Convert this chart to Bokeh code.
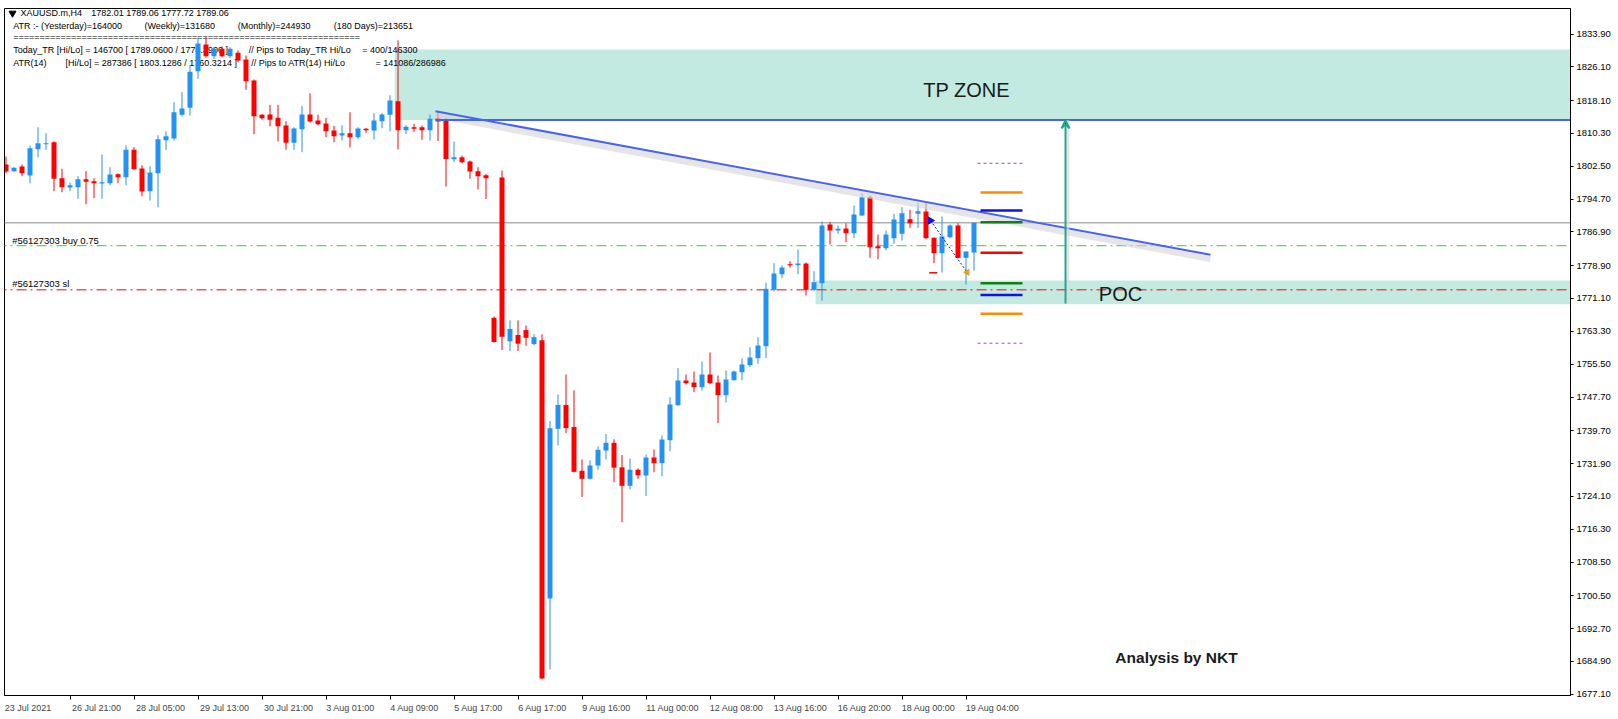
import math
from bokeh.plotting import figure
from bokeh.models import Range1d, FixedTicker, Label, Arrow, VeeHead, PrintfTickFormatter
from bokeh.core.properties import value
from bokeh.embed import file_html
from bokeh.resources import INLINE

# ---------------- data ----------------
opens = [1802.91, 1801.32, 1802.44, 1800.30, 1806.54, 1807.73, 1808.21, 1799.66, 1797.45, 1797.52,
         1799.42, 1798.94, 1798.47, 1798.47, 1800.61, 1799.89, 1806.40, 1801.96, 1796.57, 1800.84,
         1808.68, 1809.08, 1814.71, 1816.37, 1825.07, 1831.41, 1828.63, 1830.39, 1828.63, 1829.44,
         1827.84, 1822.86, 1814.71, 1814.78, 1814.00, 1812.17, 1808.06, 1811.29, 1814.78, 1813.36,
         1812.65, 1810.98, 1809.80, 1810.34, 1809.39, 1811.39, 1810.98, 1813.19, 1814.71, 1817.94,
         1811.06, 1811.77, 1811.77, 1811.06, 1813.83, 1813.72, 1804.17, 1804.64, 1803.62, 1801.32,
         1800.37, 1766.51, 1799.82, 1760.93, 1762.42, 1763.59, 1760.26, 1761.19, 1699.85, 1740.15,
         1745.80, 1740.58, 1730.17, 1728.27, 1731.43, 1734.99, 1736.82, 1731.00, 1726.61, 1730.43,
         1729.06, 1733.33, 1731.98, 1737.44, 1745.75, 1751.62, 1751.14, 1750.03, 1753.04, 1751.14,
         1748.13, 1751.69, 1753.59, 1755.25, 1756.91, 1759.76, 1773.15, 1776.86, 1779.23, 1779.00,
         1779.40, 1773.15, 1774.72, 1788.66, 1787.24, 1787.71, 1786.60, 1790.80, 1795.14, 1783.51,
         1783.03, 1785.41, 1786.45, 1789.92, 1791.20, 1791.75, 1785.50, 1781.85, 1785.65, 1788.42,
         1780.75, 1782.01]
highs = [1804.81, 1802.27, 1802.91, 1807.42, 1811.77, 1810.34, 1808.44, 1801.89, 1798.64, 1800.13,
         1801.32, 1799.66, 1805.29, 1802.27, 1800.84, 1807.49, 1807.02, 1802.74, 1802.51, 1809.87,
         1810.82, 1817.70, 1820.08, 1826.49, 1833.14, 1833.19, 1830.77, 1830.93, 1830.77, 1829.98,
         1828.79, 1823.10, 1814.95, 1817.09, 1817.09, 1813.19, 1811.77, 1816.85, 1819.84, 1814.71,
         1814.00, 1812.10, 1812.24, 1815.33, 1811.77, 1811.63, 1815.09, 1815.19, 1819.37, 1832.36,
         1812.24, 1812.58, 1812.17, 1814.78, 1815.19, 1813.95, 1808.37, 1805.05, 1803.86, 1802.27,
         1800.70, 1766.82, 1801.49, 1765.91, 1765.91, 1764.68, 1762.59, 1762.59, 1741.98, 1748.29,
         1753.04, 1749.29, 1732.85, 1732.67, 1735.99, 1738.91, 1737.65, 1733.93, 1733.09, 1730.77,
         1734.04, 1735.23, 1738.56, 1747.65, 1754.54, 1753.04, 1753.76, 1756.13, 1758.27, 1752.80,
         1753.99, 1753.99, 1756.91, 1759.53, 1761.90, 1774.82, 1779.47, 1778.93, 1779.95, 1782.73,
         1779.64, 1777.57, 1789.37, 1789.21, 1788.42, 1788.97, 1793.17, 1796.09, 1795.55, 1786.29,
         1787.24, 1791.20, 1792.77, 1792.15, 1793.82, 1793.72, 1785.57, 1790.56, 1788.66, 1788.97,
         1782.25, 1789.06]
lows = [1800.84, 1801.18, 1800.13, 1798.47, 1804.64, 1806.40, 1796.57, 1796.33, 1796.57, 1794.77,
        1793.48, 1794.91, 1794.77, 1797.99, 1798.47, 1797.99, 1801.70, 1795.38, 1794.36, 1792.77,
        1806.40, 1808.61, 1814.31, 1814.55, 1823.26, 1828.32, 1828.01, 1828.39, 1828.15, 1827.20,
        1820.65, 1810.11, 1813.53, 1812.01, 1808.37, 1806.40, 1806.40, 1805.83, 1812.81, 1812.17,
        1809.39, 1808.21, 1808.61, 1806.95, 1808.92, 1810.44, 1808.85, 1811.53, 1810.75, 1806.47,
        1810.15, 1810.58, 1808.78, 1808.61, 1808.49, 1797.69, 1803.46, 1803.22, 1799.51, 1796.97,
        1794.72, 1760.64, 1758.86, 1758.60, 1758.60, 1759.86, 1760.02, 1680.73, 1682.99, 1736.18,
        1739.08, 1729.77, 1723.95, 1728.10, 1730.43, 1732.85, 1727.44, 1717.97, 1725.78, 1728.27,
        1724.19, 1729.84, 1728.89, 1734.83, 1745.60, 1750.67, 1748.84, 1749.24, 1750.80, 1741.48,
        1746.39, 1751.60, 1751.69, 1754.78, 1755.58, 1756.91, 1772.75, 1775.91, 1778.38, 1776.86,
        1771.80, 1772.82, 1770.61, 1783.91, 1786.45, 1784.46, 1785.41, 1790.70, 1780.75, 1780.42,
        1782.49, 1784.08, 1784.86, 1787.88, 1787.88, 1785.30, 1779.47, 1777.26, 1785.41, 1780.60,
        1774.41, 1777.72]
closes = [1801.25, 1802.13, 1800.84, 1806.78, 1807.97, 1807.97, 1799.51, 1797.52, 1797.99, 1799.42,
          1798.80, 1798.47, 1798.64, 1800.54, 1799.89, 1806.40, 1801.79, 1796.50, 1801.01, 1808.92,
          1809.63, 1815.33, 1816.21, 1824.92, 1831.64, 1828.63, 1830.39, 1828.63, 1830.39, 1827.61,
          1822.69, 1814.38, 1813.91, 1813.53, 1812.01, 1808.06, 1811.46, 1814.78, 1813.12, 1812.48,
          1810.82, 1809.63, 1810.34, 1809.39, 1811.46, 1811.06, 1813.36, 1814.78, 1818.11, 1811.06,
          1811.86, 1811.39, 1811.06, 1813.76, 1813.12, 1804.22, 1804.64, 1803.46, 1801.25, 1800.13,
          1799.66, 1760.76, 1762.02, 1763.85, 1760.36, 1761.76, 1761.92, 1680.85, 1740.31, 1745.80,
          1740.31, 1729.93, 1728.27, 1731.43, 1735.16, 1736.82, 1730.93, 1726.61, 1730.43, 1729.10,
          1733.33, 1731.98, 1737.61, 1745.92, 1751.62, 1750.98, 1750.03, 1753.04, 1750.98, 1748.13,
          1751.86, 1753.76, 1755.42, 1757.08, 1759.93, 1773.39, 1777.03, 1778.45, 1779.00, 1779.40,
          1773.15, 1774.96, 1788.42, 1787.24, 1787.64, 1786.60, 1791.04, 1795.14, 1783.27, 1783.03,
          1786.29, 1789.85, 1791.35, 1788.97, 1791.82, 1785.41, 1781.85, 1785.81, 1788.42, 1780.75,
          1782.25, 1789.06]

xtick_bars = [8, 16, 24, 32, 40, 48, 56, 64, 72, 80, 88, 96, 104, 112, 120]
xtick_labels = ["26 Jul 21:00", "28 Jul 05:00", "29 Jul 13:00", "30 Jul 21:00", "3 Aug 01:00",
                "4 Aug 09:00", "5 Aug 17:00", "6 Aug 17:00", "9 Aug 16:00", "11 Aug 00:00",
                "12 Aug 08:00", "13 Aug 16:00", "16 Aug 20:00", "18 Aug 00:00", "19 Aug 04:00"]
first_date_label = "23 Jul 2021"

price_ticks = [1833.90, 1826.10, 1818.10, 1810.30, 1802.50, 1794.70, 1786.90, 1778.90, 1771.10,
               1763.30, 1755.50, 1747.70, 1739.70, 1731.90, 1724.10, 1716.30, 1708.50, 1700.50,
               1692.70, 1684.90, 1677.10]

bid_price = 1789.06
buy_price = 1783.63
sl_price = 1773.15
tp_zone = [1813.5, 1830.2]          # bottom, top
tp_zone_start_bar = 48.6
tp_line_price = 1813.5
tp_line_start_bar = 53.7
poc_zone = [1769.73, 1775.36]
poc_zone_start_bar = 101.2
trend_bars = [53.69, 150.56]
trend_prices = [1815.57, 1781.49]
arrow_bar = 132.44
arrow_prices = [1769.9, 1813.4]
level_prices = [1803.2, 1796.25, 1792.0, 1789.2, 1781.94, 1774.7, 1771.9, 1767.5, 1760.47]
trade_open = (115.56, 1789.6)
trade_close = (120.15, 1777.3)
sl_mark = (115.9, 1777.2)

# ---------------- layout helpers ----------------
PX_BAR = 8.0
X0_SCREEN = 5.5
Y_TOP = 1839.96
PX_PRICE = 4.211
LEFT = 4
TOP = 8
FRAME_W = 1566
FRAME_H = 687

def bx(sx):
    return (sx - X0_SCREEN) / PX_BAR

def py(sy):
    return Y_TOP - (sy - TOP) / PX_PRICE

x_lo, x_hi = bx(LEFT), bx(LEFT + FRAME_W)
y_lo = Y_TOP - FRAME_H / PX_PRICE

p = figure(frame_width=FRAME_W, frame_height=FRAME_H,
           x_range=Range1d(x_lo, x_hi), y_range=Range1d(y_lo, Y_TOP),
           output_backend="svg", toolbar_location=None, y_axis_location="right",
           min_border_left=LEFT, min_border_top=TOP, min_border_right=0, min_border_bottom=0)
p.grid.visible = False
p.background_fill_color = "white"
p.border_fill_color = "white"
p.outline_line_color = "black"
p.outline_line_width = 1

FONT = "Liberation Sans"
BLUE = "#2492f0"
RED = "#ff0000"
TEAL = "#c3eae1"

# zones
p.quad(left=[tp_zone_start_bar], right=[x_hi + 5], bottom=[tp_zone[0]], top=[tp_zone[1]],
       fill_color=TEAL, line_color=None)
p.quad(left=[poc_zone_start_bar], right=[x_hi + 5], bottom=[poc_zone[0]], top=[poc_zone[1]],
       fill_color=TEAL, line_color=None)

# horizontal order lines
p.line([x_lo - 1, x_hi + 1], [bid_price, bid_price], line_color="#8a8a8a", line_width=1)
p.line([x_lo - 1, x_hi + 1], [buy_price, buy_price], line_color="#33cc33", line_width=1, line_dash="10 4 2 4")
p.line([x_lo - 1, x_hi + 1], [sl_price, sl_price], line_color=RED, line_width=1, line_dash="10 4 2 4")

# info texts (top left)
def txt(s, sx, sy, size="9px", color="black", style="normal", align="left"):
    p.text(x=[bx(sx)], y=[py(sy)], text=[s], text_font=value(FONT), text_font_size=size,
           text_color=color, text_baseline="middle", text_align=align, text_font_style=style)

p.scatter([bx(12)], [py(12.7)], marker="inverted_triangle", size=7, color="black")
txt("XAUUSD.m,H4", 20, 12.7)
txt("1782.01 1789.06 1777.72 1789.06", 90.7, 12.7)
txt("ATR :- (Yesterday)=164000", 12.7, 25.3)
txt("(Weekly)=131680", 144, 25.3)
txt("(Monthly)=244930", 237.3, 25.3)
txt("(180 Days)=213651", 333.3, 25.3)
txt("=" * 66, 12.7, 36.7)
txt("Today_TR [Hi/Lo] = 146700 [ 1789.0600 / 1774.3900 ]", 12.7, 49.3)
txt("// Pips to Today_TR Hi/Lo", 248.3, 49.3)
txt("= 400/146300", 361.7, 49.3)
txt("ATR(14)", 12.7, 62)
txt("[Hi/Lo] = 287386 [ 1803.1286 / 1760.3214 ]", 65, 62)
txt("// Pips to ATR(14) Hi/Lo", 250.7, 62)
txt("= 141086/286986", 375, 62)
txt("#56127303 buy 0.75", 11.7, 240, size="9.5px")
txt("#56127303 sl", 11.7, 283, size="9.5px")

# candles
xs = list(range(len(opens)))
up = [c >= o for o, c in zip(opens, closes)]
for flag, col in ((True, BLUE), (False, RED)):
    ix = [i for i in xs if up[i] == flag]
    p.segment(x0=ix, y0=[lows[i] for i in ix], x1=ix, y1=[highs[i] for i in ix],
              line_color=col, line_width=1)
    tops, bots = [], []
    for i in ix:
        t, b = max(opens[i], closes[i]), min(opens[i], closes[i])
        if t - b < 0.26:
            m = (t + b) / 2
            t, b = m + 0.13, m - 0.13
        tops.append(t)
        bots.append(b)
    p.vbar(x=ix, width=5 / PX_BAR, top=tops, bottom=bots, fill_color=col, line_color=None)

# trend line with soft shadow
p.line(trend_bars, [v - 1.0 for v in trend_prices], line_color="#d4d4d4", line_width=6, line_alpha=0.6)
p.line(trend_bars, trend_prices, line_color="#4a62f2", line_width=2)
p.line([tp_line_start_bar, x_hi + 1], [tp_line_price, tp_line_price], line_color="#4a62f2", line_width=2)

# target arrow
p.line([arrow_bar + 0.3, arrow_bar + 0.3], arrow_prices, line_color="#dadada", line_width=3, line_alpha=0.7)
p.add_layout(Arrow(end=VeeHead(size=8, line_color="#1fa88d", line_width=2),
                   x_start=arrow_bar, y_start=arrow_prices[0], x_end=arrow_bar, y_end=arrow_prices[1],
                   line_color="#1fa88d", line_width=2))

# level lines right of the last candle
level_colors = ["#9b40ff", "#ff8c00", "#1010e8", "#108010", RED, "#108010", "#1010e8", "#ff8c00", "#9b40ff"]
for lv, col in zip(level_prices, level_colors):
    dotted = col == "#9b40ff"
    p.line([bx(977) if dotted else bx(980), bx(1022)], [lv, lv], line_color=col,
           line_width=1 if dotted else 2.5, line_dash="3 3" if dotted else "solid")

# trade markers
p.line([trade_open[0], trade_close[0]], [trade_open[1], trade_close[1]], line_color="#1010e8",
       line_width=1, line_dash="2 2")
p.scatter([trade_open[0]], [trade_open[1]], marker="triangle", angle=-math.pi / 2, size=7, color="#1010e8")
p.scatter([trade_close[0]], [trade_close[1]], marker="triangle", angle=math.pi / 2, size=6, color="#e0a020")
p.line([sl_mark[0] - 0.5, sl_mark[0] + 0.5], [sl_mark[1], sl_mark[1]], line_color=RED, line_width=1.5)

# big labels
txt("TP ZONE", 966, 89.8, size="20px", color="#1a1a1a", align="center")
txt("POC", 1120, 293, size="20px", color="#1a1a1a", align="center")
txt("Analysis by NKT", 1176, 657, size="15.5px", color="#1a1a1a", style="bold", align="center")

# y axis (right)
ya = p.yaxis[0]
ya.ticker = FixedTicker(ticks=price_ticks)
ya.formatter = PrintfTickFormatter(format="%.2f")
ya.major_tick_out = 3
ya.major_tick_in = 0
ya.minor_tick_line_color = None
ya.major_label_standoff = 3
ya.major_label_text_font = FONT
ya.major_label_text_font_size = "9.5px"
ya.major_label_text_color = "black"
ya.axis_line_color = "black"

# x axis: labels left-aligned after each tick (MT4 style)
def centre(bar, label):
    return bar + (2 + 4.1 * len(label) / 2) / PX_BAR

label_pos = [bx(5 + 4.1 * len(first_date_label) / 2)] + [centre(b, l) for b, l in zip(xtick_bars, xtick_labels)]
label_txt = [first_date_label] + xtick_labels
xa = p.xaxis[0]
xa.ticker = FixedTicker(ticks=label_pos, minor_ticks=xtick_bars)
xa.major_label_overrides = {pos: lab for pos, lab in zip(label_pos, label_txt)}
xa.major_tick_line_color = None
xa.major_tick_out = 0
xa.major_tick_in = 0
xa.minor_tick_out = 4
xa.minor_tick_in = 0
xa.minor_tick_line_color = "black"
xa.major_label_standoff = 3
xa.major_label_text_font = FONT
xa.major_label_text_font_size = "9px"
xa.axis_line_color = "black"

# current price tag on the price scale
p.add_layout(Label(x=x_hi, y=bid_price, x_offset=1, text="1789.06", text_font=FONT,
                   text_font_size="9.5px", text_color="white", text_baseline="middle",
                   background_fill_color="black", text_align="left"))

open("out.html", "w").write(file_html(p, INLINE))
